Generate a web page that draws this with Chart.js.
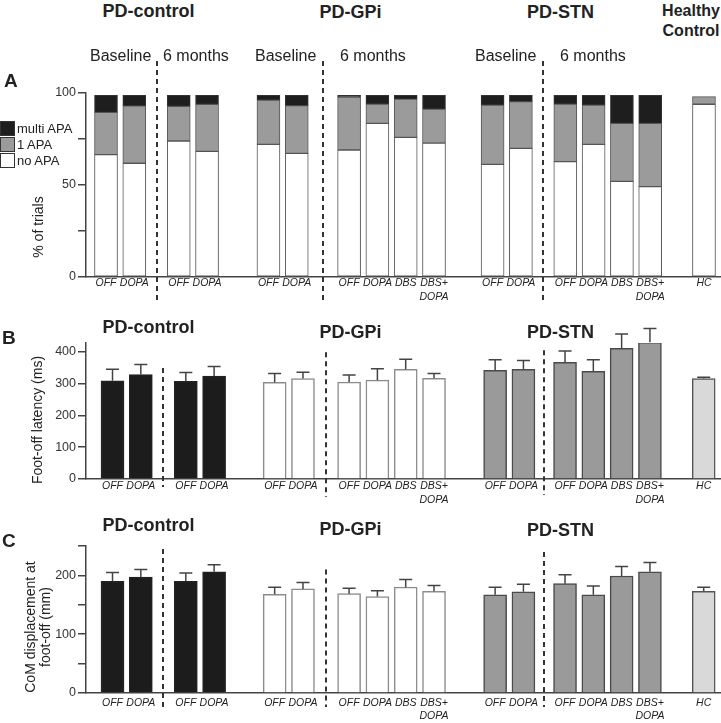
<!DOCTYPE html>
<html>
<head>
<meta charset="utf-8">
<script src="https://cdn.jsdelivr.net/npm/chart.js@4/dist/chart.umd.min.js"></script>
<style>
  body { margin: 0; background: #fff; }
  #fig { position: relative; width: 721px; height: 723px; overflow: hidden;
         font-family: "Liberation Sans", Arial, sans-serif; color: #222; }
  #fig canvas { position: absolute; left: 0; }
  .t { position: absolute; white-space: nowrap; line-height: 1; }
  .grp { font-weight: bold; font-size: 18px; transform: translateX(-50%); }
  .phase { font-size: 16px; }
  .letter { font-weight: bold; font-size: 19px; }
  .ytitle { font-size: 14px; line-height: 1.05; text-align: center;
            transform: translate(-50%, -50%) rotate(-90deg); }
  #legend { position: absolute; left: 0; top: 120px; font-size: 13px; }
  #legend div { display: flex; align-items: center; height: 16px; }
  #legend .box { width: 15px; height: 15px; box-sizing: border-box; border: 1px solid #333; margin-right: 2px; }
</style>
</head>
<body>
<div id="fig">
  <canvas id="chartA" width="721" height="255" style="top:55px"></canvas>
  <canvas id="chartB" width="721" height="195" style="top:315px"></canvas>
  <canvas id="chartC" width="721" height="208" style="top:515px"></canvas>

  <div class="t grp" style="left:148.5px;top:1.6px">PD-control</div>
  <div class="t grp" style="left:350.5px;top:2.6px">PD-GPi</div>
  <div class="t grp" style="left:560.5px;top:2.6px">PD-STN</div>
  <div class="t grp" style="left:691px;top:1.2px;font-size:16px;line-height:19.5px;text-align:center">Healthy<br>Control</div>

  <div class="t phase" style="left:90px;top:48px">Baseline</div>
  <div class="t phase" style="left:163px;top:48px">6 months</div>
  <div class="t phase" style="left:255px;top:48px">Baseline</div>
  <div class="t phase" style="left:340px;top:48px">6 months</div>
  <div class="t phase" style="left:475px;top:48px">Baseline</div>
  <div class="t phase" style="left:560px;top:48px">6 months</div>

  <div class="t letter" style="left:4px;top:70.5px">A</div>
  <div class="t letter" style="left:2px;top:327.5px">B</div>
  <div class="t letter" style="left:2px;top:530.5px">C</div>

  <div class="t grp" style="left:148.5px;top:317.6px">PD-control</div>
  <div class="t grp" style="left:350.5px;top:322.6px">PD-GPi</div>
  <div class="t grp" style="left:560.5px;top:322.6px">PD-STN</div>

  <div class="t grp" style="left:148.5px;top:515.6px">PD-control</div>
  <div class="t grp" style="left:350.5px;top:519.6px">PD-GPi</div>
  <div class="t grp" style="left:560.5px;top:520.6px">PD-STN</div>

  <div class="t ytitle" style="left:37.5px;top:227px">% of trials</div>
  <div class="t ytitle" style="left:36.5px;top:420px">Foot-off latency (ms)</div>
  <div class="t ytitle" style="left:37.5px;top:627px">CoM displacement at<br>foot-off (mm)</div>

  <div id="legend">
    <div><span class="box" style="background:#1e1e1e"></span>multi APA</div>
    <div><span class="box" style="background:#9b9b9b"></span>1 APA</div>
    <div><span class="box" style="background:#fff"></span>no APA</div>
  </div>
</div>

<script>
// bars per group: PD-control base/6m, PD-GPi base/6m, PD-STN base/6m, HC
const groupSizes = [2, 2, 2, 4, 2, 4, 1]
const conditions = ["OFF", "DOPA", "OFF", "DOPA", "OFF", "DOPA",
  "OFF", "DOPA", "DBS", "DBS+\nDOPA", "OFF", "DOPA",
  "OFF", "DOPA", "DBS", "DBS+\nDOPA", "HC"]
// cohort of each bar: 0 PD-control, 1 PD-GPi, 2 PD-STN, 3 HC
const cohorts = [0, 0, 0, 0, 1, 1, 1, 1, 1, 1, 2, 2, 2, 2, 2, 2, 3]

// A: % of trials
const noApa    = [66.5, 61.8, 73.9, 68.3, 72.1, 67.2, 69.0, 83.5, 75.9, 72.8, 61.2, 69.9, 62.7, 72.1, 52.0, 49.1, 93.9]
const oneApa   = [23.0, 31.2, 18.9, 25.6, 24.1, 25.9, 28.8, 10.5, 20.8, 18.5, 32.3, 25.4, 31.3, 21.4, 31.5, 34.4, 4.1]
const multiApa = [9.2, 5.7, 5.9, 4.8, 2.5, 5.6, 0.9, 4.7, 2.0, 7.4, 5.2, 3.4, 4.7, 5.2, 15.2, 15.2, 0]

// B: foot-off latency (ms), mean and upper error
const latencyMean = [309, 329, 307, 324, 304, 316, 305, 311, 345, 317, 342, 345, 367, 339, 411, 430, 316]
const latencyErr  = [36, 31, 28, 30, 28, 20, 22, 36, 32, 15, 33, 28, 36, 36, 45, 44, 4]

// C: CoM displacement at foot-off (mm)
const comMean = [190, 197, 190, 206, 168, 177, 169, 164, 180, 173, 167, 172, 186, 167, 199, 206, 173]
const comErr  = [15, 13, 14, 12, 12, 11, 9, 10, 13, 10, 13, 13, 15, 15, 16, 16, 7]

const ticksA = [0, 25, 50, 75, 100]
const ticksB = [0, 100, 200, 300, 400]
const ticksC = [0, 50, 100, 150, 200, 250]

// layout: x in units of bar pitch
const xMin = -0.707, xMax = 21.696
function positions(start, gaps) {
  const out = []
  let x = start
  groupSizes.forEach((n, g) => {
    for (let i = 0; i < n; i++) out.push(x + i)
    x += n - 1 + (gaps[g] || 0)
  })
  return out
}
const posA = positions(0, [1.57, 2.17, 1.85, 2.07, 1.57, 1.9])
const posB = positions(0.23, [1.59, 2.14, 1.63, 2.16, 1.47, 1.9])

function dividerAt(pos, g) {
  const last = groupSizes.slice(0, g + 1).reduce((a, b) => a + b) - 1
  return (pos[last] + pos[last + 1]) / 2
}

const pts = (pos, vals) => vals.map((v, i) => ({ x: pos[i], y: v }))

const font = { family: "'Liberation Sans', Arial, sans-serif" }
const ink = "#444"

function overlay(dividers) {
  return {
    id: "overlay",
    afterDatasetsDraw(chart) {
      const { ctx, scales: { x, y } } = chart
      ctx.save()
      ctx.strokeStyle = ink
      ctx.lineWidth = 1.5
      chart.data.datasets.forEach((ds, d) => {
        if (!ds.errors) return
        chart.getDatasetMeta(d).data.forEach((bar, i) => {
          const top = y.getPixelForValue(ds.data[i].y + ds.errors[i])
          ctx.beginPath()
          ctx.moveTo(bar.x, bar.y)
          ctx.lineTo(bar.x, top)
          ctx.moveTo(bar.x - 6.5, top)
          ctx.lineTo(bar.x + 6.5, top)
          ctx.stroke()
        })
      })
      ctx.strokeStyle = "#333"
      ctx.lineWidth = 2
      ctx.setLineDash([5, 4])
      for (const dv of dividers) {
        const px = Math.round(x.getPixelForValue(dv.at))
        ctx.beginPath()
        ctx.moveTo(px, y.getPixelForValue(dv.top))
        ctx.lineTo(px, y.bottom + dv.below)
        ctx.stroke()
      }
      ctx.restore()
    }
  }
}

function xScale(pos, height, pad) {
  return {
    type: "linear", min: xMin, max: xMax, offset: false, stacked: true,
    grid: { display: false, drawTicks: false },
    border: { color: ink, width: 1.5 },
    afterBuildTicks: s => { s.ticks = pos.map(v => ({ value: v })) },
    afterFit: s => { s.height = height },
    ticks: {
      autoSkip: false, maxRotation: 0, minRotation: 0, padding: pad, color: "#222",
      font: { ...font, size: 10.5, style: "italic", lineHeight: 1.25 },
      callback: (v, i) => conditions[i].split("\n")
    }
  }
}

function yScale(min, max, ticks, labelEvery, extra) {
  return {
    min, max, ...extra,
    afterFit: s => { s.width = 86 },
    afterBuildTicks: s => { s.ticks = ticks.map(v => ({ value: v })) },
    grid: { drawOnChartArea: false, tickLength: 8, color: ink, lineWidth: 1.5 },
    border: { color: ink, width: 1.5 },
    ticks: {
      padding: 2, color: "#333", font: { ...font, size: 12.5 },
      callback: v => v % labelEvery === 0 ? v : ""
    }
  }
}

const common = {
  responsive: false,
  animation: false,
  events: [],
  plugins: { legend: { display: false }, tooltip: { enabled: false } }
}

// panel A
new Chart(document.getElementById("chartA"), {
  type: "bar",
  data: {
    datasets: [
      { label: "no APA", data: pts(posA, noApa), backgroundColor: "#ffffff", borderColor: "#555" },
      { label: "1 APA", data: pts(posA, oneApa), backgroundColor: "#9b9b9b", borderColor: "#555" },
      { label: "multi APA", data: pts(posA, multiApa), backgroundColor: "#1e1e1e", borderColor: "#333" }
    ]
  },
  options: {
    ...common,
    layout: { padding: { top: 38, right: 1, left: 0, bottom: 0 } },
    datasets: { bar: { barThickness: 23, borderWidth: 1, borderSkipped: false } },
    scales: {
      x: xScale(posA, 33, 0),
      y: yScale(0, 100, ticksA, 50, { stacked: true })
    }
  },
  plugins: [overlay([0, 2, 4].map(g => ({ at: dividerAt(posA, g), top: 117.4, below: 26 })))]
})

// panels B and C share the bar styling per cohort
const cohortFill   = ["#1c1c1c", "#ffffff", "#9a9a9a", "#d9d9d9"]
const cohortBorder = ["#222", "#8c8c8c", "#4a4a4a", "#555"]

function meanChart(id, means, errs, yMax, ticks, labelEvery, padTop, axisH, tickPad, dividers) {
  new Chart(document.getElementById(id), {
    type: "bar",
    data: {
      datasets: [{
        data: pts(posB, means),
        errors: errs,
        backgroundColor: cohorts.map(c => cohortFill[c]),
        borderColor: cohorts.map(c => cohortBorder[c]),
        borderWidth: 1.5,
        barThickness: 23
      }]
    },
    options: {
      ...common,
      layout: { padding: { top: padTop, right: 1, left: 0, bottom: 0 } },
      scales: {
        x: xScale(posB, axisH, tickPad),
        y: yScale(0, yMax, ticks, labelEvery)
      }
    },
    plugins: [overlay(dividers)]
  })
}

meanChart("chartB", latencyMean, latencyErr, 428, ticksB, 100, 28, 31, 1, [
  { at: dividerAt(posB, 0), top: 349, below: 8 },
  { at: dividerAt(posB, 2), top: 399, below: 18 },
  { at: dividerAt(posB, 4), top: 405, below: 16 }
])

meanChart("chartC", comMean, comErr, 250, ticksC, 100, 31, 30, 3.5, [
  { at: dividerAt(posB, 0), top: 245, below: 14 },
  { at: dividerAt(posB, 2), top: 210, below: 14 },
  { at: dividerAt(posB, 4), top: 240, below: 14 }
])
</script>
</body>
</html>
